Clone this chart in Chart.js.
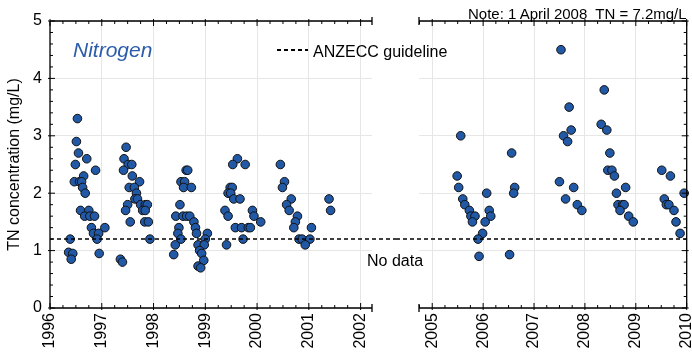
<!DOCTYPE html>
<html>
<head>
<meta charset="utf-8">
<script src="https://cdn.jsdelivr.net/npm/chart.js@4.4.0/dist/chart.umd.min.js"></script>
<style>
  body { margin: 0; background: #fff; }
  #wrap { position: relative; width: 692px; height: 354px; overflow: hidden; font-family: 'Liberation Sans', Arial, sans-serif; }
  canvas { position: absolute; top: 0; }
  .lbl { position: absolute; line-height: 1; white-space: pre; color: #000; }
</style>
</head>
<body>
<div id="wrap">
  <canvas id="early" width="396" height="354" style="left:0"></canvas>
  <canvas id="late" width="296" height="354" style="left:396px"></canvas>
  <div class="lbl" style="left:73px; top:39px; font-size:21px; font-style:italic; color:#2b5caa">Nitrogen</div>
  <div style="position:absolute; left:277px; top:49px; width:31px; height:2px; background:repeating-linear-gradient(90deg,#000 0 4px,transparent 4px 7px)"></div>
  <div class="lbl" style="left:313px; top:44px; font-size:16px">ANZECC guideline</div>
  <div class="lbl" style="left:367px; top:253px; font-size:16px">No data</div>
  <div class="lbl" style="left:468px; top:6px; font-size:15px">Note: 1 April 2008  TN = 7.2mg/L</div>
</div>
<script>
// 1996-2001 samples (decimal year, TN mg/L)
const datesEarly = [
  1996.53, 1996.51, 1996.55, 1996.71, 1996.49, 1996.88, 1996.65, 1996.47, 1996.57, 1996.61,
  1996.63, 1996.68, 1996.59, 1996.75, 1996.67, 1996.77, 1996.86, 1996.80, 1997.06, 1996.84,
  1996.94, 1996.91, 1996.39, 1996.36, 1996.44, 1996.41, 1996.95,
  1997.47, 1997.43, 1997.51, 1997.58, 1997.42, 1997.59, 1997.73, 1997.53, 1997.63, 1997.67,
  1997.64, 1997.69, 1997.50, 1997.75, 1997.84, 1997.88, 1997.46, 1997.79, 1997.84, 1997.55,
  1997.83, 1997.90, 1997.93, 1997.36, 1997.40,
  1998.63, 1998.66, 1998.53, 1998.60, 1998.58, 1998.73, 1998.51, 1998.43, 1998.57, 1998.64,
  1998.70, 1998.78, 1998.81, 1998.49, 1998.47, 1998.53, 1998.83, 1999.04, 1999.00, 1998.42,
  1998.86, 1998.98, 1998.89, 1998.93, 1998.39, 1998.97, 1998.86, 1998.91,
  1999.62, 1999.53, 1999.77, 1999.48, 1999.52, 1999.44, 1999.49, 1999.55, 1999.67, 1999.38,
  1999.44, 1999.91, 1999.94, 2000.07, 1999.58, 1999.70, 1999.83, 1999.87, 1999.73, 1999.41,
  2000.45, 2000.53, 2000.49, 2000.66, 2000.57, 2000.62, 2000.78, 2000.74, 2000.71, 2001.05,
  2000.81, 2000.87, 2001.02, 2000.93, 2001.39, 2001.42
];
const tnEarly = [
  3.3, 2.9, 2.7, 2.6, 2.5, 2.4, 2.3, 2.2, 2.2, 2.2,
  2.1, 2.0, 1.7, 1.7, 1.6, 1.6, 1.6, 1.4, 1.4, 1.3,
  1.3, 1.2, 1.2, 0.97, 0.95, 0.85, 0.95,
  2.8, 2.6, 2.5, 2.5, 2.4, 2.3, 2.2, 2.1, 2.1, 2.0,
  1.9, 1.9, 1.8, 1.8, 1.8, 1.8, 1.7, 1.7, 1.7, 1.5,
  1.5, 1.5, 1.2, 0.85, 0.8,
  2.4, 2.4, 2.2, 2.2, 2.1, 2.1, 1.8, 1.6, 1.6, 1.6,
  1.6, 1.5, 1.4, 1.4, 1.3, 1.2, 1.3, 1.3, 1.2, 1.1,
  1.1, 1.1, 1.0, 0.95, 0.93, 0.83, 0.73, 0.7,
  2.6, 2.5, 2.5, 2.1, 2.1, 2.0, 2.0, 1.9, 1.9, 1.7,
  1.6, 1.7, 1.6, 1.5, 1.4, 1.4, 1.4, 1.4, 1.2, 1.1,
  2.5, 2.2, 2.1, 1.9, 1.8, 1.7, 1.6, 1.5, 1.4, 1.4,
  1.2, 1.2, 1.2, 1.1, 1.9, 1.7
];
// 2005-2010 samples
const datesLate = [
  2005.56, 2005.49, 2005.52, 2005.60, 2005.64, 2005.73, 2005.76, 2005.84, 2005.79, 2006.12,
  2006.15, 2006.07, 2006.04, 2005.99, 2005.90, 2005.92, 2006.52, 2006.56, 2006.62, 2006.60,
  2007.53, 2007.69, 2007.73, 2007.58, 2007.66, 2007.50, 2007.78, 2007.62, 2007.85, 2007.94,
  2008.38, 2008.32, 2008.43, 2008.49, 2008.45, 2008.53, 2008.58, 2008.62, 2008.80, 2008.65,
  2008.74, 2008.77, 2008.69, 2008.86, 2008.95,
  2009.51, 2009.68, 2009.56, 2009.60, 2009.65, 2009.75, 2009.79, 2009.87, 2009.95
];
const tnLate = [
  3.0, 2.3, 2.1, 1.9, 1.8, 1.7, 1.6, 1.6, 1.5, 1.7,
  1.6, 2.0, 1.5, 1.3, 1.2, 0.9, 0.93, 2.7, 2.1, 2.0,
  4.5, 3.5, 3.1, 3.0, 2.9, 2.2, 2.1, 1.9, 1.8, 1.7,
  3.8, 3.2, 3.1, 2.7, 2.4, 2.4, 2.3, 2.0, 2.1, 1.8,
  1.8, 1.8, 1.7, 1.6, 1.5,
  2.4, 2.3, 1.9, 1.8, 1.8, 1.7, 1.5, 1.3, 2.0
];
const yearsEarly = [1996, 1997, 1998, 1999, 2000, 2001, 2002];
const yearsLate = [2005, 2006, 2007, 2008, 2009, 2010];
const tnTicks = [0, 1, 2, 3, 4, 5];
const guideline = 1.2; // ANZECC

Chart.defaults.font.family = "'Liberation Sans', Arial, sans-serif";
Chart.defaults.font.size = 16;
Chart.defaults.color = '#000';

// axis frame, inward ticks and the guideline (drawn over the points)
const frame = {
  id: 'frame',
  afterDatasetsDraw(chart, args, o) {
    const { ctx, chartArea: a, scales: { x, y } } = chart;
    const left = o.side === 'left';
    ctx.save();
    const gy = y.getPixelForValue(guideline);
    ctx.strokeStyle = '#000';
    ctx.lineWidth = 1.5;
    ctx.setLineDash([4, 3]);
    ctx.beginPath();
    ctx.moveTo(left ? a.left : 0, gy);
    ctx.lineTo(left ? chart.width : a.right, gy);
    ctx.stroke();
    ctx.setLineDash([]);

    const seg = (x1, y1, x2, y2) => { ctx.moveTo(x1, y1); ctx.lineTo(x2, y2); };
    ctx.lineWidth = 1.3;
    ctx.beginPath();
    seg(a.left, a.top, a.right, a.top);
    seg(a.left, a.bottom, a.right, a.bottom);
    const side = left ? a.left : a.right;
    seg(side, a.top, side, a.bottom);
    const open = left ? a.right : a.left;
    seg(open, a.top - 4, open, a.top + 4);
    seg(open, a.bottom - 4, open, a.bottom + 4);
    ctx.stroke();

    ctx.lineWidth = 1;
    ctx.beginPath();
    for (let q = Math.ceil(x.min * 4); q <= Math.floor(x.max * 4); q++) {
      const px = x.getPixelForValue(q / 4);
      const major = q % 4 === 0;
      seg(px, a.top - (major ? 2 : 0), px, a.top + (major ? 5 : 3));
      seg(px, a.bottom + (major ? 2 : 0), px, a.bottom - (major ? 5 : 3));
    }
    const dir = left ? 1 : -1;
    for (let k = 0; k <= 25; k++) {
      const py = y.getPixelForValue(k / 5);
      const major = k % 5 === 0;
      seg(side - dir * (major ? 2 : 0), py, side + dir * (major ? 5 : 3), py);
    }
    ctx.stroke();
    ctx.restore();
  }
};

function makeChart(id, dates, tn, years, xmin, xmax, side) {
  const isLeft = side === 'left';
  return new Chart(document.getElementById(id), {
    type: 'scatter',
    data: {
      datasets: [{
        data: dates.map((d, i) => ({ x: d, y: tn[i] })),
        backgroundColor: '#2159a6',
        borderColor: '#111',
        borderWidth: 1,
        pointRadius: 4.3,
        clip: false
      }]
    },
    options: {
      responsive: false,
      animation: false,
      layout: { padding: { top: 21, left: isLeft ? 0 : 23, right: isLeft ? 24 : 0, bottom: 0 } },
      plugins: { legend: { display: false }, tooltip: { enabled: false }, frame: { side } },
      scales: {
        x: {
          type: 'linear', min: xmin, max: xmax,
          afterBuildTicks: s => { s.ticks = years.map(v => ({ value: v })); },
          afterFit: s => { s.height = 46; s.paddingLeft = 0; s.paddingRight = 0; },
          ticks: { minRotation: 90, maxRotation: 90, padding: 5, autoSkip: false, callback: v => String(v) },
          grid: { color: '#e6e6e6', drawTicks: false },
          border: { display: false }
        },
        y: {
          position: side,
          min: 0, max: 5,
          afterBuildTicks: s => { s.ticks = tnTicks.map(v => ({ value: v })); },
          afterFit: s => { s.width = isLeft ? 50 : 4.5; s.paddingTop = 0; s.paddingBottom = 0; },
          ticks: { display: isLeft, padding: 8 },
          grid: { color: '#e6e6e6', drawTicks: false },
          border: { display: false },
          title: { display: isLeft, text: 'TN concentration (mg/L)', padding: { top: 5, bottom: 0 } }
        }
      }
    },
    plugins: [frame]
  });
}

makeChart('early', datesEarly, tnEarly, yearsEarly, 1996, 2002.22, 'left');
makeChart('late', datesLate, tnLate, yearsLate, 2004.74, 2010, 'right');
</script>
</body>
</html>
